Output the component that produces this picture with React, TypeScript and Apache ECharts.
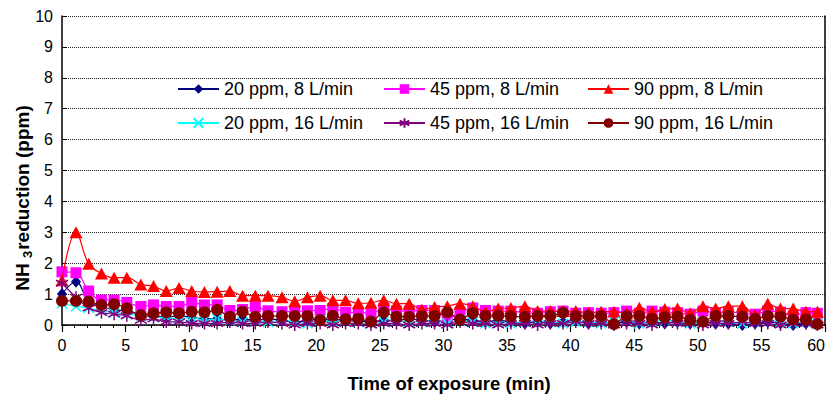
import React, { useEffect, useRef } from 'react';
import * as echarts from 'echarts';

const FONT = '"Liberation Sans", Arial, Helvetica, sans-serif';

const times = [
  0, 1.1, 2.1, 3.1, 4.1, 5.1, 6.2, 7.2, 8.2, 9.2,
  10.2, 11.2, 12.2, 13.2, 14.2, 15.2, 16.2, 17.3, 18.3, 19.3,
  20.3, 21.3, 22.3, 23.3, 24.3, 25.3, 26.3, 27.3, 28.3, 29.3,
  30.3, 31.3, 32.3, 33.3, 34.3, 35.3, 36.4, 37.4, 38.4, 39.4,
  40.4, 41.4, 42.4, 43.4, 44.4, 45.4, 46.4, 47.4, 48.4, 49.4,
  50.4, 51.4, 52.4, 53.5, 54.5, 55.5, 56.5, 57.5, 58.5, 59.4,
];

const names = [
  '20 ppm, 8 L/min',
  '45 ppm, 8 L/min',
  '90 ppm, 8 L/min',
  '20 ppm, 16 L/min',
  '45 ppm, 16 L/min',
  '90 ppm, 16 L/min',
];

const ppm20_8 = [
  1.0, 1.4, 0.75, 0.6, 0.5, 0.45, 0.35, 0.3, 0.25, 0.3,
  0.25, 0.2, 0.2, 0.15, 0.2, 0.15, 0.2, 0.15, 0.1, 0.15,
  0.2, 0.15, 0.2, 0.15, 0.1, 0.15, 0.15, 0.2, 0.15, 0.1,
  0.15, 0.2, 0.15, 0.1, 0.15, 0.1, 0.05, 0.1, 0.05, 0.1,
  0.15, 0.05, 0.1, 0.05, 0.1, 0.05, 0.1, 0.05, 0.1, 0.05,
  0.1, 0.05, 0.05, 0.0, 0.05, 0.1, 0.05, 0.0, 0.05, 0.1,
];

const ppm45_8 = [
  1.72, 1.69, 1.1, 0.81, 0.81, 0.73, 0.6, 0.65, 0.6, 0.6,
  0.73, 0.65, 0.65, 0.47, 0.5, 0.59, 0.46, 0.43, 0.43, 0.46,
  0.47, 0.54, 0.41, 0.41, 0.37, 0.54, 0.45, 0.45, 0.47, 0.47,
  0.22, 0.4, 0.55, 0.47, 0.45, 0.45, 0.4, 0.38, 0.43, 0.45,
  0.38, 0.4, 0.38, 0.4, 0.45, 0.38, 0.45, 0.42, 0.4, 0.35,
  0.45, 0.4, 0.42, 0.38, 0.35, 0.45, 0.42, 0.3, 0.4, 0.38,
];

const ppm90_8 = [
  1.45, 3.0, 1.98, 1.67, 1.53, 1.53, 1.31, 1.26, 1.1, 1.2,
  1.1, 1.07, 1.08, 1.1, 0.95, 0.95, 0.95, 0.9, 0.77, 0.9,
  0.95, 0.8, 0.8, 0.7, 0.72, 0.8, 0.69, 0.69, 0.5, 0.58,
  0.61, 0.69, 0.61, 0.43, 0.53, 0.55, 0.61, 0.45, 0.45, 0.45,
  0.45, 0.4, 0.43, 0.43, 0.38, 0.56, 0.43, 0.52, 0.53, 0.38,
  0.61, 0.53, 0.61, 0.61, 0.32, 0.69, 0.53, 0.53, 0.43, 0.43,
];

const ppm20_16 = [
  0.7, 0.6, 0.55, 0.45, 0.4, 0.35, 0.3, 0.25, 0.25, 0.2,
  0.25, 0.15, 0.2, 0.15, 0.1, 0.15, 0.1, 0.15, 0.1, 0.05,
  0.15, 0.1, 0.15, 0.1, 0.05, 0.1, 0.15, 0.1, 0.1, 0.15,
  0.05, 0.15, 0.1, 0.05, 0.1, 0.05, 0.1, 0.15, 0.1, 0.05,
  0.1, 0.1, 0.05, 0.1, 0.15, 0.05, 0.1, 0.15, 0.1, 0.05,
  0.1, 0.15, 0.1, 0.05, 0.1, 0.15, 0.1, 0.05, 0.1, 0.05,
];

const ppm45_16 = [
  1.35, 0.9, 0.55, 0.4, 0.35, 0.3, 0.15, 0.2, 0.1, 0.1,
  0.05, 0.05, 0.05, 0.1, 0.05, 0.05, 0.1, 0.05, 0.0, 0.05,
  0.05, 0.0, 0.05, 0.05, 0.0, 0.05, 0.05, 0.0, 0.05, 0.05,
  0.0, 0.1, 0.05, 0.05, 0.0, 0.05, 0.05, 0.0, 0.05, 0.05,
  0.1, 0.05, 0.05, 0.0, 0.05, 0.05, 0.0, 0.1, 0.05, 0.05,
  0.0, 0.05, 0.05, 0.1, 0.05, 0.05, 0.0, 0.05, 0.05, 0.0,
];

const ppm90_16 = [
  0.78, 0.78, 0.76, 0.65, 0.67, 0.54, 0.32, 0.38, 0.41, 0.38,
  0.43, 0.41, 0.49, 0.27, 0.43, 0.27, 0.29, 0.29, 0.29, 0.29,
  0.16, 0.3, 0.19, 0.2, 0.11, 0.41, 0.27, 0.27, 0.29, 0.29,
  0.41, 0.18, 0.38, 0.3, 0.3, 0.28, 0.27, 0.29, 0.29, 0.4,
  0.29, 0.29, 0.29, 0.03, 0.29, 0.29, 0.2, 0.25, 0.27, 0.16,
  0.11, 0.29, 0.29, 0.27, 0.2, 0.29, 0.27, 0.18, 0.18, 0.03,
];

const xTicks = { min: 0, max: 60, interval: 5 };
const yTicks = { min: 0, max: 10, interval: 1 };

const values = [ppm20_8, ppm45_8, ppm90_8, ppm20_16, ppm45_16, ppm90_16];
const colors = ['#000080', '#FF00FF', '#FF0000', '#00FFFF', '#800080', '#800000'];
const symbols: any[] = [
  'diamond',
  'rect',
  'triangle',
  'path://M0,0L10,10M10,0L0,10',
  'path://M5,0L5,10M0.7,2.5L9.3,7.5M9.3,2.5L0.7,7.5',
  'circle',
];
const symbolSizes: any[] = [[10, 12], 11, [13, 12], 10, 12, 12];
const legendPos = [
  [177, 80], [383, 80], [587, 80],
  [177, 114], [383, 114], [587, 114],
];

export default function App() {
  const ref = useRef<HTMLDivElement>(null);
  useEffect(() => {
    const chart = echarts.init(ref.current!, null, { renderer: 'svg' });
    const series = values.map((vals, k) => {
      const stroked = k === 3 || k === 4;
      return {
        name: names[k],
        type: 'line',
        data: times.map((t, i) => [t, vals[i]]),
        smooth: 0.4,
        symbol: symbols[k],
        symbolSize: symbolSizes[k],
        showSymbol: true,
        lineStyle: { color: colors[k], width: 1.2 },
        itemStyle: stroked
          ? { color: colors[k], borderColor: colors[k], borderWidth: 1.5 }
          : { color: colors[k], borderWidth: 0 },
        emphasis: { disabled: true },
        z: 2 + k,
      };
    });
    const legends = names.map((n, k) => ({
      data: [n],
      left: legendPos[k][0],
      top: legendPos[k][1],
      padding: 0,
      itemGap: 0,
      itemWidth: 41,
      itemHeight: 12,
      selectedMode: false,
      textStyle: { fontSize: 18, fontFamily: FONT, color: '#000' },
    }));
    chart.setOption({
      animation: false,
      backgroundColor: '#fff',
      textStyle: { fontFamily: FONT },
      grid: { left: 62, right: 3, top: 16, bottom: 73, containLabel: false },
      legend: legends,
      xAxis: {
        type: 'value',
        min: xTicks.min,
        max: xTicks.max,
        interval: xTicks.interval,
        axisLine: { show: true, lineStyle: { color: '#000', width: 1.5 } },
        axisTick: { show: true, inside: false, length: 7, lineStyle: { color: '#000', width: 1.2 } },
        minorTick: { show: true, splitNumber: 5, length: 3, lineStyle: { color: '#000', width: 1 } },
        axisLabel: { fontSize: 16, color: '#000', fontFamily: FONT, margin: 12, alignMaxLabel: 'right' },
        splitLine: { show: false },
      },
      yAxis: [
        {
          type: 'value',
          min: yTicks.min,
          max: yTicks.max,
          interval: yTicks.interval,
          axisLine: { show: true, lineStyle: { color: '#000', width: 1.5 } },
          axisTick: { show: true, inside: true, length: 5, lineStyle: { color: '#000' } },
          axisLabel: { fontSize: 16, color: '#000', fontFamily: FONT, margin: 9 },
          splitLine: { show: true, lineStyle: { color: '#222', width: 1, type: [1, 1] } },
        },
        {
          type: 'value',
          position: 'right',
          min: yTicks.min,
          max: yTicks.max,
          interval: yTicks.interval,
          axisLine: { show: true, lineStyle: { color: '#000', width: 1.5 } },
          axisTick: { show: false },
          axisLabel: { show: false },
          splitLine: { show: false },
        },
      ],
      graphic: [
        {
          type: 'text',
          x: 449,
          y: 383,
          style: {
            text: 'Time of exposure (min)',
            fontSize: 18.5,
            fontWeight: 'bold',
            fontFamily: FONT,
            fill: '#000',
            align: 'center',
            verticalAlign: 'middle',
          },
        },
        {
          type: 'text',
          x: 22,
          y: 198,
          rotation: Math.PI / 2,
          style: {
            text: '{a|NH }{b|3}{a|reduction (ppm)}',
            align: 'center',
            verticalAlign: 'middle',
            fill: '#000',
            rich: {
              a: { fontSize: 19, fontWeight: 'bold', fontFamily: FONT, fill: '#000' },
              b: { fontSize: 13, fontWeight: 'bold', fontFamily: FONT, fill: '#000', padding: [10, 1, 0, 0] },
            },
          },
        },
      ],
      series,
    });
    return () => chart.dispose();
  }, []);
  return (
    <div
      ref={ref}
      style={{ position: 'fixed', left: 0, top: 0, width: 828, height: 398 }}
    />
  );
}
